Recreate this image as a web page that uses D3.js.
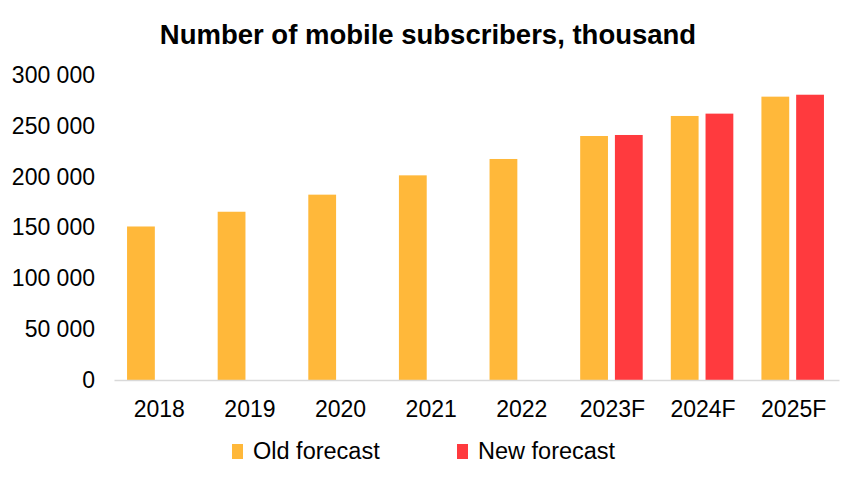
<!DOCTYPE html>
<html>
<head>
<meta charset="utf-8">
<script src="https://cdn.jsdelivr.net/npm/d3@7"></script>
<style>
  body { margin: 0; background: #fff; }
  text { font-family: 'Liberation Sans', Arial, sans-serif; fill: #000; }
</style>
</head>
<body>
<div id="chart"></div>
<script>
const years = ['2018', '2019', '2020', '2021', '2022', '2023F', '2024F', '2025F'];
const oldForecast = [151000, 165500, 182300, 201300, 217400, 240000, 259700, 278700];
const newForecast = [null, null, null, null, null, 241000, 262000, 280600];
const seriesNames = ['Old forecast', 'New forecast'];
const yTicks = [0, 50000, 100000, 150000, 200000, 250000, 300000];

const width = 858;
const height = 484;
const plotLeft = 114;
const plotRight = 839;
const plotTop = 75;
const plotBottom = 380;

const oldColor = '#FFB83A';
const newColor = '#FF3A3E';

const svg = d3.select('#chart')
  .append('svg')
  .attr('width', width)
  .attr('height', height);

const x0 = d3.scaleBand()
  .domain(years)
  .range([plotLeft, plotRight])
  .paddingInner(0.31)
  .paddingOuter(0.155);

const x1 = d3.scaleBand()
  .domain(seriesNames)
  .range([0, x0.bandwidth()])
  .paddingInner(0.2);

const yScale = d3.scaleLinear()
  .domain([0, 300000])
  .range([plotBottom, plotTop]);

const rows = years.map((year, i) => ({
  year,
  values: [
    { name: seriesNames[0], value: oldForecast[i], color: oldColor },
    { name: seriesNames[1], value: newForecast[i], color: newColor },
  ].filter((d) => d.value !== null),
}));

// bars
const groups = svg.append('g')
  .selectAll('g')
  .data(rows)
  .enter()
  .append('g')
  .attr('transform', (d) => `translate(${x0(d.year) - 1} 0)`);

groups.selectAll('rect')
  .data((d) => d.values)
  .enter()
  .append('rect')
  .attr('x', (d) => x1(d.name))
  .attr('y', (d) => yScale(d.value))
  .attr('width', x1.bandwidth())
  .attr('height', (d) => plotBottom - yScale(d.value))
  .attr('fill', (d) => d.color);

// y axis
const yAxis = d3.axisLeft(yScale)
  .tickValues(yTicks)
  .tickSize(0)
  .tickPadding(19)
  .tickFormat((d) => d3.format(',')(d).replace(/,/g, ' '));

svg.append('g')
  .attr('transform', `translate(${plotLeft} 0)`)
  .call(yAxis)
  .call((g) => g.select('.domain').remove())
  .selectAll('text')
  .style('font-size', '23px')
  .style('font-family', "'Liberation Sans', Arial, sans-serif")
  .attr('fill', '#000');

// x axis
const xAxis = d3.axisBottom(x0)
  .tickSize(0)
  .tickPadding(21);

svg.append('g')
  .attr('transform', `translate(0 ${plotBottom})`)
  .call(xAxis)
  .call((g) => g.select('.domain').attr('stroke', '#d9d9d9').attr('stroke-width', 1.5))
  .selectAll('text')
  .style('font-size', '23px')
  .style('font-family', "'Liberation Sans', Arial, sans-serif")
  .attr('fill', '#000');

// title
svg.append('text')
  .attr('x', 428)
  .attr('y', 44)
  .attr('text-anchor', 'middle')
  .style('font-size', '27.5px')
  .style('font-weight', 'bold')
  .text('Number of mobile subscribers, thousand');

// legend
const legendItems = [
  { name: seriesNames[0], color: oldColor, x: 232 },
  { name: seriesNames[1], color: newColor, x: 457 },
];

const legend = svg.append('g');

legend.selectAll('rect')
  .data(legendItems)
  .enter()
  .append('rect')
  .attr('x', (d) => d.x)
  .attr('y', 444)
  .attr('width', 11)
  .attr('height', 15)
  .attr('fill', (d) => d.color);

legend.selectAll('text')
  .data(legendItems)
  .enter()
  .append('text')
  .attr('x', (d) => d.x + 21)
  .attr('y', 459)
  .style('font-size', '23.5px')
  .text((d) => d.name);
</script>
</body>
</html>
